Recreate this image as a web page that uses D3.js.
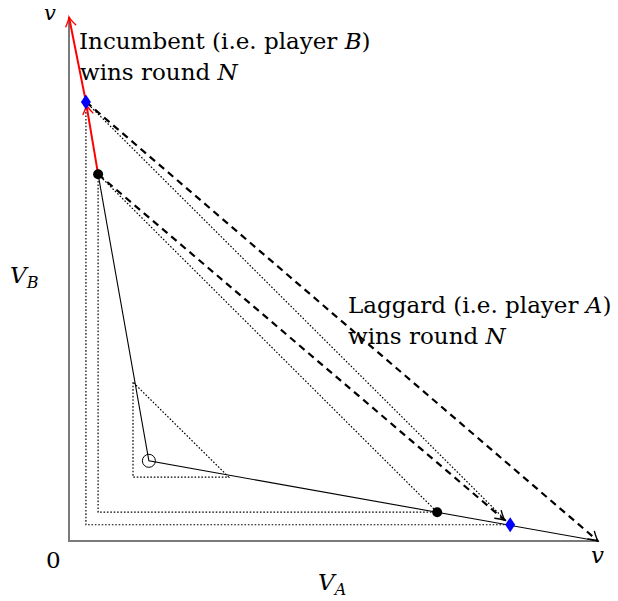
<!DOCTYPE html>
<html>
<head>
<meta charset="utf-8">
<script src="https://cdn.jsdelivr.net/npm/d3@7"></script>
<style>
  body { margin: 0; background: #fff; }
  text { font-family: "DejaVu Serif", "Liberation Serif", serif; fill: #000; }
</style>
</head>
<body>
<svg width="618" height="601"></svg>
<script>
// Chart data (v normalised to 1)
var origin = [0, 0];
var topEnd = [0, 1];
var rightEnd = [1, 0];
var startPoint = [0.151, 0.153];          // open circle
var blackDots = [[0.055, 0.70], [0.696, 0.055]];
var blueDiamonds = [[0.032, 0.838], [0.834, 0.031]];
var smallCorner = [[0.121, 0.303], [0.121, 0.122], [0.302, 0.122]];

var axisTicks = ["0", "v", "v"];

var svg = d3.select("svg"),
    width = +svg.attr("width"),
    height = +svg.attr("height");

var x = d3.scaleLinear().domain([0, 1]).range([69, 598]);
var y = d3.scaleLinear().domain([0, 1]).range([541, 17]);

var line = d3.line()
    .x(function (d) { return x(d[0]); })
    .y(function (d) { return y(d[1]); });

// arrowheads
var defs = svg.append("defs");
function marker(id, color) {
    defs.append("marker")
        .attr("id", id)
        .attr("viewBox", "-11 -7 13 14")
        .attr("refX", 0)
        .attr("refY", 0)
        .attr("markerWidth", 13)
        .attr("markerHeight", 14)
        .attr("markerUnits", "userSpaceOnUse")
        .attr("orient", "auto")
        .append("path")
        .attr("d", "M -9,-5 Q -3,-1 0,0 Q -3,1 -9,5")
        .attr("fill", "none")
        .attr("stroke", color)
        .attr("stroke-width", 1.4)
        .attr("stroke-linecap", "round");
}
marker("arrowRed", "red");
marker("arrowBlack", "black");

// axes
svg.append("path")
    .attr("d", line([topEnd, origin, rightEnd]))
    .attr("fill", "none")
    .attr("stroke", "#7a7a7a")
    .attr("stroke-width", 2);

// dotted guides
var dotted = [
    [blackDots[0], [blackDots[0][0], blackDots[1][1]], blackDots[1]],
    [blueDiamonds[0], [blueDiamonds[0][0], blueDiamonds[1][1]], blueDiamonds[1]],
    [blackDots[0], blackDots[1]],
    [blueDiamonds[0], blueDiamonds[1]],
    [smallCorner[0], smallCorner[1], smallCorner[2], smallCorner[0]]
];
svg.selectAll(".dotted")
    .data(dotted)
    .enter()
    .append("path")
    .attr("class", "dotted")
    .attr("d", line)
    .attr("fill", "none")
    .attr("stroke", "#000")
    .attr("stroke-width", 1.2)
    .attr("stroke-dasharray", "1.6,1.8");

// dashed arrows
var dashed = [
    [blackDots[0], blueDiamonds[1]],
    [blueDiamonds[0], rightEnd]
];
function trimEnd(d) {
    var p0 = [x(d[0][0]), y(d[0][1])], p1 = [x(d[1][0]), y(d[1][1])];
    var dx = p1[0] - p0[0], dy = p1[1] - p0[1], L = Math.hypot(dx, dy);
    var k = d[1] === rightEnd ? 0 : 7;
    return { p0: p0, e: [p1[0] - dx / L * k, p1[1] - dy / L * k], ux: dx / L, uy: dy / L };
}
svg.selectAll(".dashed")
    .data(dashed)
    .enter()
    .append("path")
    .attr("class", "dashed")
    .attr("d", function (d) {
        var t = trimEnd(d);
        return "M" + t.p0 + "L" + t.e;
    })
    .attr("fill", "none")
    .attr("stroke", "#000")
    .attr("stroke-width", 2.2)
    .attr("stroke-dasharray", "7,5");

svg.selectAll(".dashhead")
    .data(dashed)
    .enter()
    .append("path")
    .attr("class", "dashhead")
    .attr("d", function (d) {
        var t = trimEnd(d);
        return "M" + [t.e[0] - t.ux * 2, t.e[1] - t.uy * 2] + "L" + t.e;
    })
    .attr("fill", "none")
    .attr("stroke", "#000")
    .attr("stroke-width", 1.2)
    .attr("marker-end", "url(#arrowBlack)");

// solid path
svg.append("path")
    .attr("d", line([blackDots[0], startPoint, rightEnd]))
    .attr("fill", "none")
    .attr("stroke", "#000")
    .attr("stroke-width", 1.1);

// red arrows
var redSegs = [[blackDots[0], blueDiamonds[0]], [blueDiamonds[0], topEnd]];
svg.selectAll(".red")
    .data(redSegs)
    .enter()
    .append("path")
    .attr("class", "red")
    .attr("d", function (d, i) {
        var p0 = [x(d[0][0]), y(d[0][1])], p1 = [x(d[1][0]), y(d[1][1])];
        var dx = p1[0] - p0[0], dy = p1[1] - p0[1], L = Math.hypot(dx, dy);
        var k = i === 0 ? 3 : 0;
        return "M" + p0 + "L" + [p1[0] - dx / L * k, p1[1] - dy / L * k];
    })
    .attr("fill", "none")
    .attr("stroke", "red")
    .attr("stroke-width", 2)
    .attr("marker-end", "url(#arrowRed)");

// markers
svg.append("circle")
    .attr("cx", x(startPoint[0]))
    .attr("cy", y(startPoint[1]))
    .attr("r", 6.5)
    .attr("fill", "none")
    .attr("stroke", "#000")
    .attr("stroke-width", 1);

svg.selectAll(".dot")
    .data(blackDots)
    .enter()
    .append("circle")
    .attr("class", "dot")
    .attr("cx", function (d) { return x(d[0]); })
    .attr("cy", function (d) { return y(d[1]); })
    .attr("r", 5)
    .attr("fill", "#000");

svg.selectAll(".diamond")
    .data(blueDiamonds)
    .enter()
    .append("path")
    .attr("class", "diamond")
    .attr("transform", function (d) { return "translate(" + x(d[0]) + "," + y(d[1]) + ")"; })
    .attr("d", "M0,-7.5L5,0L0,7.5L-5,0Z")
    .attr("fill", "#0000ff");

// labels
var fs = 23;
svg.append("text").attr("x", 79).attr("y", 49).attr("font-size", fs)
    .html('Incumbent (i.e. player <tspan font-style="italic">B</tspan>)');
svg.append("text").attr("x", 80).attr("y", 80).attr("font-size", fs)
    .html('wins round <tspan font-style="italic">N</tspan>');
svg.append("text").attr("x", 348).attr("y", 313).attr("font-size", fs)
    .html('Laggard (i.e. player <tspan font-style="italic">A</tspan>)');
svg.append("text").attr("x", 348).attr("y", 344).attr("font-size", fs)
    .html('wins round <tspan font-style="italic">N</tspan>');

svg.append("text").attr("x", 46).attr("y", 568).attr("font-size", fs).text(axisTicks[0]);
svg.append("text").attr("x", 44).attr("y", 20).attr("font-size", 21).attr("font-style", "italic").text(axisTicks[1]);
svg.append("text").attr("x", 591).attr("y", 563).attr("font-size", fs).attr("font-style", "italic").text(axisTicks[2]);

svg.append("text").attr("x", 318).attr("y", 590).attr("font-size", fs)
    .html('<tspan font-style="italic">V</tspan><tspan font-style="italic" font-size="16" dy="5">A</tspan>');
svg.append("text").attr("x", 10).attr("y", 283).attr("font-size", fs)
    .html('<tspan font-style="italic">V</tspan><tspan font-style="italic" font-size="16" dy="5">B</tspan>');
</script>
</body>
</html>
